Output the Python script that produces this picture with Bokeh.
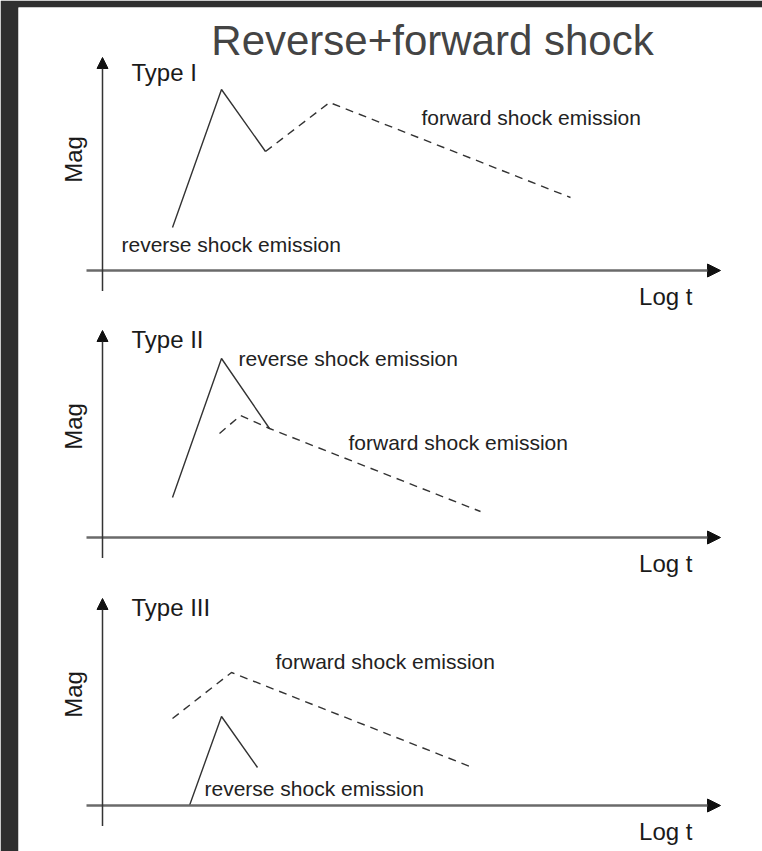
import math
from bokeh.plotting import figure
from bokeh.models import Range1d, Arrow, NormalHead, Label
from bokeh.embed import file_html
from bokeh.resources import INLINE

# ---------------- data (schematic light curves; x = log t, y = magnitude, arbitrary units)
panels = ["Type I", "Type II", "Type III"]

logt_I_rev = [7.0, 11.9, 16.3]
mag_I_rev = [4.3, 18.1, 11.9]
logt_I_fwd = [16.3, 22.7, 46.8]
mag_I_fwd = [11.9, 16.8, 7.3]

logt_II_rev = [7.0, 11.9, 16.7]
mag_II_rev = [4.0, 17.9, 10.9]
logt_II_fwd = [11.7, 13.8, 16.7, 37.8]
mag_II_fwd = [10.4, 12.2, 10.9, 2.6]

logt_III_fwd = [7.0, 12.9, 37.0]
mag_III_fwd = [8.7, 13.3, 3.8]
logt_III_rev = [8.7, 11.9, 15.5]
mag_III_rev = [0.0, 8.9, 3.8]

title_text = "Reverse+forward shock"
x_label = "Log t"
y_label = "Mag"
rev_label = "reverse shock emission"
fwd_label = "forward shock emission"

# ---------------- layout
W, H = 762, 851
LEFT, TOP = 18, 7
SCALE = 10.0          # pixels per unit
X0 = 102              # pixel x of the vertical axes
ORIGINS = [270, 537, 805]   # pixel y of each panel's horizontal axis

x_range = Range1d((LEFT - X0) / SCALE, (W - X0) / SCALE)
yr = [Range1d((o - H) / SCALE, (o - TOP) / SCALE) for o in ORIGINS]

p = figure(width=W, height=H, x_range=x_range, y_range=yr[0],
           output_backend="svg", toolbar_location=None,
           x_axis_type=None, y_axis_type=None,
           min_border=0, min_border_left=LEFT, min_border_top=TOP,
           min_border_right=0, min_border_bottom=0,
           border_fill_color="#2f2f2f", background_fill_color="white",
           outline_line_color=None)
p.extra_y_ranges = {"p2": yr[1], "p3": yr[2]}
names = ["default", "p2", "p3"]

FONT = "Liberation Sans"
LINE_C = "#333333"
DASH = "8 6"
TXT_C = "#1a1a1a"

# axes with arrows
ytips = [21.3, 20.7, 20.7]
for nm, tip in zip(names, ytips):
    p.add_layout(Arrow(end=NormalHead(size=13, fill_color="#111111", line_color="#111111"),
                       x_start=-1.6, y_start=0, x_end=61.8, y_end=0,
                       line_color="#6a6a6a", line_width=2.5, y_range_name=nm))
    p.add_layout(Arrow(end=NormalHead(size=11, fill_color="#111111", line_color="#111111"),
                       x_start=0, y_start=-2.05, x_end=0, y_end=tip,
                       line_color="#333333", line_width=1.5, y_range_name=nm))
    p.add_layout(Label(x=59.0, y=-2.6, text=x_label, text_font=FONT, text_font_size="24px",
                       text_color=TXT_C, text_align="right", text_baseline="alphabetic",
                       y_range_name=nm))
    p.add_layout(Label(x=-2.95, y=11.1, text=y_label, text_font=FONT, text_font_size="24px",
                       text_color=TXT_C, text_align="center", text_baseline="middle",
                       angle=math.pi / 2, y_range_name=nm))

for nm, t in zip(names, panels):
    p.add_layout(Label(x=2.9, y=19.8, text=t, text_font=FONT, text_font_size="24px",
                       text_color=TXT_C, text_align="left", text_baseline="alphabetic",
                       y_range_name=nm))

# curves
p.line(logt_I_rev, mag_I_rev, line_color=LINE_C, line_width=1.4, y_range_name="default")
p.line(logt_I_fwd, mag_I_fwd, line_color=LINE_C, line_width=1.4, line_dash=DASH, y_range_name="default")
p.line(logt_II_rev, mag_II_rev, line_color=LINE_C, line_width=1.4, y_range_name="p2")
p.line(logt_II_fwd, mag_II_fwd, line_color=LINE_C, line_width=1.4, line_dash=DASH, y_range_name="p2")
p.line(logt_III_rev, mag_III_rev, line_color=LINE_C, line_width=1.4, y_range_name="p3")
p.line(logt_III_fwd, mag_III_fwd, line_color=LINE_C, line_width=1.4, line_dash=DASH, y_range_name="p3")

# annotations
ann = [
    ("default", 1.9, 2.6, rev_label),
    ("default", 31.9, 15.3, fwd_label),
    ("p2", 13.6, 17.9, rev_label),
    ("p2", 24.6, 9.5, fwd_label),
    ("p3", 17.3, 14.4, fwd_label),
    ("p3", 10.2, 1.7, rev_label),
]
for nm, x, y, t in ann:
    p.add_layout(Label(x=x, y=y, text=t, text_font=FONT, text_font_size="21px",
                       text_color="#222222", text_align="left", text_baseline="alphabetic",
                       y_range_name=nm))

# title
p.add_layout(Label(x=(432 - X0) / SCALE, y=(ORIGINS[0] - 40) / SCALE, text=title_text,
                   text_font=FONT, text_font_size="42px", text_color="#444444",
                   text_align="center", text_baseline="alphabetic"))

open("out.html", "w").write(file_html(p, INLINE))
